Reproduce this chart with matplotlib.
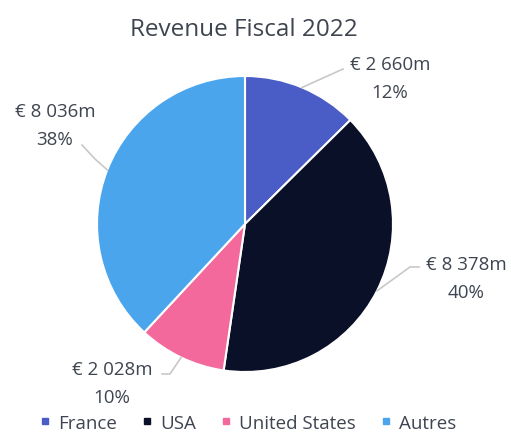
import numpy as np
import matplotlib
matplotlib.use('Agg')
import matplotlib.pyplot as plt
from matplotlib.lines import Line2D

# --- Data ---
regions = ['France', 'USA', 'United States', 'Autres']
revenue = [2660, 8378, 2028, 8036]
value_labels = ['€ 2 660m', '€ 8 378m', '€ 2 028m', '€ 8 036m']
pct_labels = ['12%', '40%', '10%', '38%']
colors = ['#4a5cc6', '#0b1029', '#f4699b', '#4aa5ec']

# label anchor positions (pixel coords, y from top)
label_pos = [(390, 65), (466, 265), (112, 370), (55, 112)]

W, H = 511, 435
plt.rcParams['font.family'] = ['Open Sans', 'DejaVu Sans']
text_color = '#3f4550'

fig = plt.figure(figsize=(W / 100, H / 100), dpi=100)
ax = fig.add_axes([0, 0, 1, 1])

cx, cy, r = 245, H - 225, 148
wedges, _ = ax.pie(revenue, colors=colors, startangle=90, counterclock=False,
                   center=(cx, cy), radius=r, frame=True,
                   wedgeprops=dict(edgecolor='white', linewidth=1.5))
ax.set_xlim(0, W)
ax.set_ylim(0, H)
ax.set_aspect('equal')
ax.axis('off')

ax.text(244, H - 30, 'Revenue Fiscal 2022', ha='center', va='center',
        fontsize=17.5, color=text_color)

# leader line end points near each label (pixel coords)
line_ends = [[(343, 70)], [(410, 268), (419, 268)], [(170, 375), (162, 375)], [(95, 160), (82, 146)]]

for w, (lx, ly), vl, pl, ends in zip(wedges, label_pos, value_labels, pct_labels, line_ends):
    mid = np.deg2rad((w.theta1 + w.theta2) / 2)
    ex, ey = cx + r * np.cos(mid), cy + r * np.sin(mid)
    xs = [ex] + [p[0] for p in ends]
    ys = [ey] + [H - p[1] for p in ends]
    ax.plot(xs, ys, color='#c8c8c8', lw=1.2)
    ax.text(lx, H - ly, vl, ha='center', va='center', fontsize=13.5, color=text_color)
    ax.text(lx, H - ly - 28, pl, ha='center', va='center', fontsize=13.5, color=text_color)

handles = [Line2D([], [], marker='s', ls='', markersize=5, markerfacecolor=c,
                  markeredgecolor=c) for c in colors]
fig.legend(handles, regions, loc='center', bbox_to_anchor=(248 / W, 1 - 424 / H), ncol=4,
           frameon=False, fontsize=13.5, handlelength=0.6, handletextpad=0.4,
           columnspacing=1.3, labelcolor=text_color)

fig.savefig('out.png', dpi=100)
